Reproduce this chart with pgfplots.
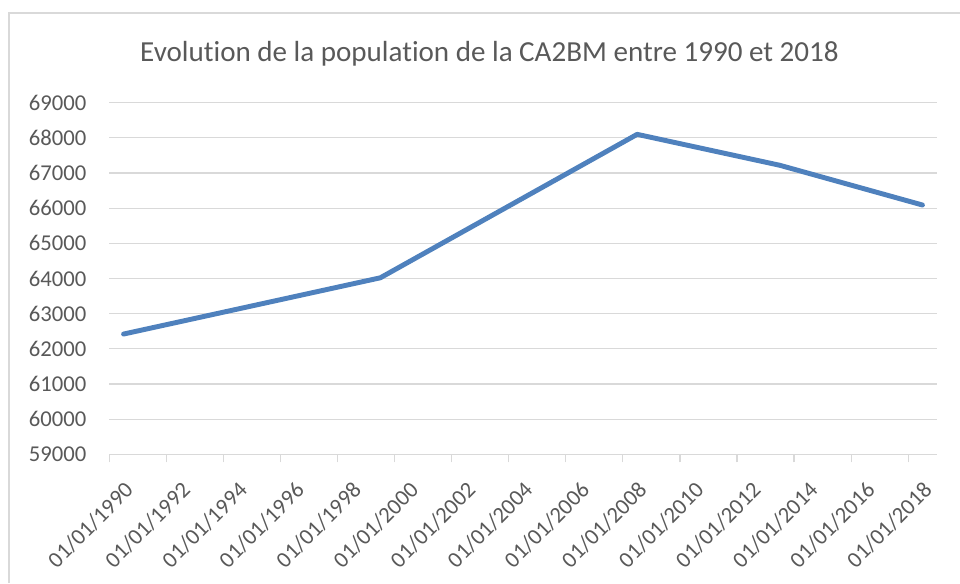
\documentclass[border=0pt]{standalone}
\usepackage{pgfplots}
\pgfplotsset{compat=1.18}
\usepackage{fontspec}
\setmainfont[Ligatures={NoCommon}]{Carlito}

\definecolor{txtgray}{HTML}{595959}
\definecolor{gridgray}{HTML}{D9D9D9}
\definecolor{xlblue}{HTML}{4F81BD}

\begin{document}
\begin{tikzpicture}[x=0.75pt,y=0.75pt]
% page frame, 960x583 px
\useasboundingbox (0,0) rectangle (960,583);
\draw[gridgray,line width=0.9pt] (9,0) -- (9,570) -- (960,570);

\node[anchor=base,text=txtgray,font=\fontsize{21.8}{25}\selectfont]
  at (489.5,521.3) {Evolution de la population de la CA2BM entre 1990 et 2018};

\begin{axis}[%
at={(81.98pt,96.53pt)},anchor=south west,%
scale only axis,%
width=620.55pt,height=263.7pt,%
xmin=1990,xmax=2019,%
ymin=59000,ymax=69000,%
xtick={1990,1992,...,2018},%
xticklabels={01/01/1990,01/01/1992,01/01/1994,01/01/1996,01/01/1998,01/01/2000,01/01/2002,01/01/2004,01/01/2006,01/01/2008,01/01/2010,01/01/2012,01/01/2014,01/01/2016,01/01/2018},%
ytick={59000,60000,...,69000},%
/pgf/number format/assume math mode=true,%
yticklabel={\pgfmathprintnumber[fixed,1000 sep={}]{\tick}},%
scaled y ticks=false,%
axis x line*=bottom,axis y line*=left,%
y axis line style={draw=none},%
x axis line style={draw=gridgray,line width=0.9pt,-},%
ymajorgrids,%
grid style={gridgray,line width=0.9pt},%
tick align=outside,%
major tick length=6pt,%
xtick style={draw=gridgray,line width=0.9pt},%
ytick style={draw=none},%
ticklabel style={text=txtgray,font=\fontsize{17}{20}\selectfont},%
yticklabel style={anchor=east,inner sep=0pt,xshift=-11pt},%
xticklabel style={anchor=east,inner sep=0pt,xshift=15pt,yshift=-18pt,rotate=45},%
clip=false]%

\addplot [%
color=xlblue,%
line width=3.7pt,%
line join=round,line cap=round%
] coordinates{
 (1990.5,62420) (1999.5,64020) (2008.5,68100) (2013.5,67220) (2018.5,66090)
};

\end{axis}
\end{tikzpicture}
\end{document}
